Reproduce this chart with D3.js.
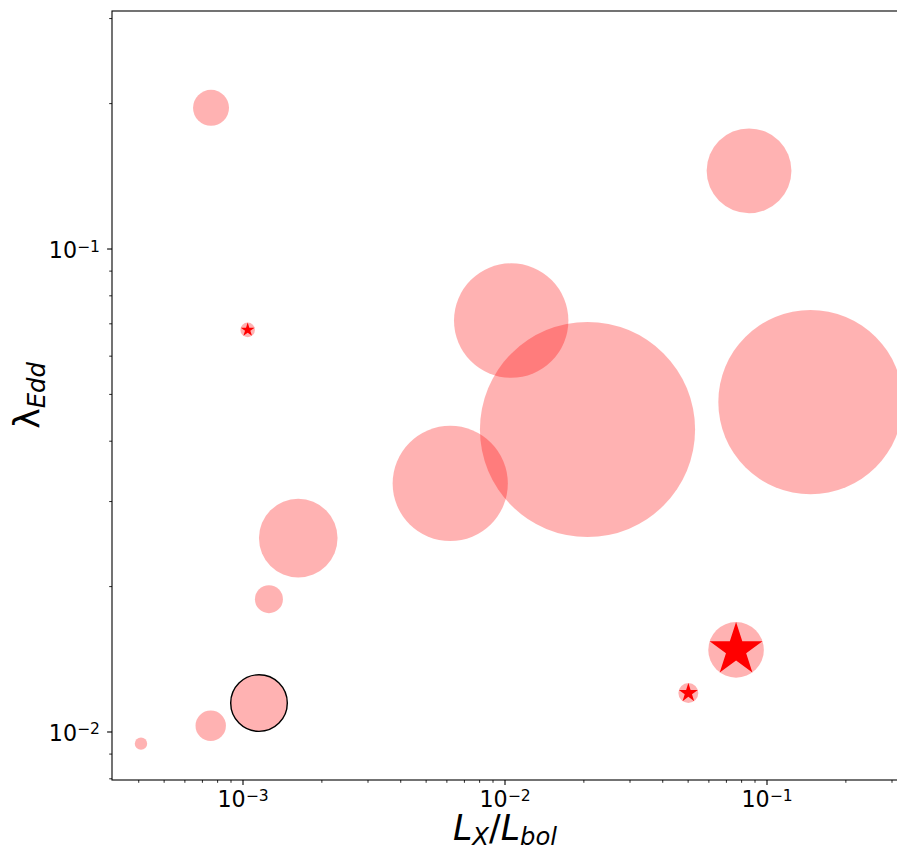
<!DOCTYPE html>
<html>
<head>
<meta charset="utf-8">
<script src="https://cdn.jsdelivr.net/npm/d3@7/dist/d3.min.js"></script>
<style>
  html, body { margin: 0; padding: 0; background: #fff; }
  svg { display: block; }
  text { font-family: "DejaVu Sans", sans-serif; fill: #000; }
</style>
</head>
<body>
<script>
// X-ray to bolometric luminosity ratio and Eddington ratio for each source
const lxLbol    = [7.55e-4, 0.0854, 0.01056, 0.02065, 0.1466, 0.00618, 0.001625, 0.001256, 0.001151, 7.53e-4, 4.08e-4, 0.0762, 0.0501, 0.001042];
const lambdaEdd = [0.196, 0.1452, 0.0711, 0.0423, 0.0482, 0.0327, 0.0252, 0.01884, 0.01148, 0.0103, 0.00946, 0.01479, 0.01204, 0.068];
// marker area (pt^2) for each source
const markerArea = [672, 3728, 6784, 24000, 17630, 6880, 3203, 406, 1661, 479, 80, 1602, 207, 110];

// outlined source
const outlinedLx = [0.001151];
const outlinedLambda = [0.01148];
const outlinedArea = [1661];

// sources drawn as stars
const starLx = [0.0762, 0.0501, 0.001042];
const starLambda = [0.01479, 0.01204, 0.068];
const starArea = [1602, 207, 110];

// axis ticks
const xMajorTicks = [1e-3, 1e-2, 1e-1];
const xTickLabels = ["\u22123", "\u22122", "\u22121"];
const yMajorTicks = [1e-2, 1e-1];
const yTickLabels = ["\u22122", "\u22121"];

const W = 897, H = 851;
const plot = { left: 112, right: 898, top: 11, bottom: 780 };

const svg = d3.select("body").append("svg").attr("width", W).attr("height", H);

const x = d3.scaleLog().domain([Math.pow(10, -3.5), Math.pow(10, -0.5)]).range([plot.left, plot.right]);
const y = d3.scaleLog().domain([Math.pow(10, -2.0994), Math.pow(10, -0.5072)]).range([plot.bottom, plot.top]);
// marker area in pt^2 -> radius in px (100 dpi)
const r = d3.scaleSqrt().domain([0, 24000]).range([0, Math.sqrt(24000) * (100 / 72) / 2]);

svg.append("clipPath").attr("id", "plotclip").append("rect")
  .attr("x", plot.left).attr("y", plot.top)
  .attr("width", plot.right - plot.left).attr("height", plot.bottom - plot.top);

const g = svg.append("g").attr("clip-path", "url(#plotclip)");

const pts = lxLbol.map((v, i) => ({ lx: v, le: lambdaEdd[i], s: markerArea[i] }));

g.selectAll("circle.src").data(pts).join("circle")
  .attr("class", "src")
  .attr("cx", d => x(d.lx)).attr("cy", d => y(d.le)).attr("r", d => r(d.s))
  .attr("fill", "red").attr("fill-opacity", 0.3);

g.selectAll("circle.outl").data(outlinedLx.map((v, i) => ({ lx: v, le: outlinedLambda[i], s: outlinedArea[i] }))).join("circle")
  .attr("class", "outl")
  .attr("cx", d => x(d.lx)).attr("cy", d => y(d.le)).attr("r", d => r(d.s))
  .attr("fill", "none").attr("stroke", "#000").attr("stroke-width", 1.4);

// star marker with outer radius equal to the circle radius
const starK = 0.89081309152928522810;
g.selectAll("path.star").data(starLx.map((v, i) => ({ lx: v, le: starLambda[i], s: starArea[i] }))).join("path")
  .attr("class", "star")
  .attr("transform", d => `translate(${x(d.lx)},${y(d.le)})`)
  .attr("d", d => d3.symbol().type(d3.symbolStar).size(r(d.s) * r(d.s) / starK)())
  .attr("fill", "red");

// spines
const axG = svg.append("g");
axG.append("rect")
  .attr("x", plot.left).attr("y", plot.top)
  .attr("width", plot.right - plot.left).attr("height", plot.bottom - plot.top)
  .attr("fill", "none").attr("stroke", "#000").attr("stroke-width", 1.1);

// minor ticks at 2..9 times each decade inside the domain
function minorTicks(scale) {
  const [a, b] = scale.domain();
  const out = [];
  for (let e = Math.floor(Math.log10(a)); e <= Math.ceil(Math.log10(b)); e++) {
    for (let m = 2; m <= 9; m++) {
      const v = m * Math.pow(10, e);
      if (v >= a && v <= b) out.push(v);
    }
  }
  return out;
}

axG.selectAll("line.xminor").data(minorTicks(x)).join("line")
  .attr("x1", d => x(d)).attr("x2", d => x(d))
  .attr("y1", plot.bottom).attr("y2", plot.bottom + 2.8)
  .attr("stroke", "#000").attr("stroke-width", 0.85);
axG.selectAll("line.yminor").data(minorTicks(y)).join("line")
  .attr("y1", d => y(d)).attr("y2", d => y(d))
  .attr("x1", plot.left).attr("x2", plot.left - 2.8)
  .attr("stroke", "#000").attr("stroke-width", 0.85);

axG.selectAll("line.xmajor").data(xMajorTicks).join("line")
  .attr("x1", d => x(d)).attr("x2", d => x(d))
  .attr("y1", plot.bottom).attr("y2", plot.bottom + 4.9)
  .attr("stroke", "#000").attr("stroke-width", 1.1);
axG.selectAll("line.ymajor").data(yMajorTicks).join("line")
  .attr("y1", d => y(d)).attr("y2", d => y(d))
  .attr("x1", plot.left).attr("x2", plot.left - 4.9)
  .attr("stroke", "#000").attr("stroke-width", 1.1);

const tickFont = 22.2;
function powerLabel(sel, expText) {
  sel.append("tspan").text("10");
  sel.append("tspan").attr("font-size", tickFont * 0.7).attr("dy", -6.5).text(d => expText(d));
}

axG.selectAll("text.xtl").data(xMajorTicks).join("text")
  .attr("class", "xtl")
  .attr("x", d => x(d)).attr("y", 807)
  .attr("text-anchor", "middle").attr("font-size", tickFont)
  .call(powerLabel, d => xTickLabels[xMajorTicks.indexOf(d)]);

axG.selectAll("text.ytl").data(yMajorTicks).join("text")
  .attr("class", "ytl")
  .attr("x", 100).attr("y", d => y(d) + 9)
  .attr("text-anchor", "end").attr("font-size", tickFont)
  .call(powerLabel, d => yTickLabels[yMajorTicks.indexOf(d)]);

// axis titles
const labelFont = 34.7;
const xl = svg.append("text")
  .attr("x", (plot.left + plot.right) / 2).attr("y", 840)
  .attr("text-anchor", "middle").attr("font-size", labelFont);
xl.append("tspan").attr("font-style", "italic").text("L");
xl.append("tspan").attr("font-style", "italic").attr("font-size", labelFont * 0.7).attr("dy", 5).text("X");
xl.append("tspan").attr("dy", -5).text("/");
xl.append("tspan").attr("font-style", "italic").text("L");
xl.append("tspan").attr("font-style", "italic").attr("font-size", labelFont * 0.7).attr("dy", 5).text("bol");

const yl = svg.append("text")
  .attr("transform", `translate(39,${(plot.top + plot.bottom) / 2}) rotate(-90)`)
  .attr("text-anchor", "middle").attr("font-size", labelFont);
yl.append("tspan").text("\u03bb");
yl.append("tspan").attr("font-style", "italic").attr("font-size", labelFont * 0.7).attr("dy", 6).text("Edd");
</script>
</body>
</html>
